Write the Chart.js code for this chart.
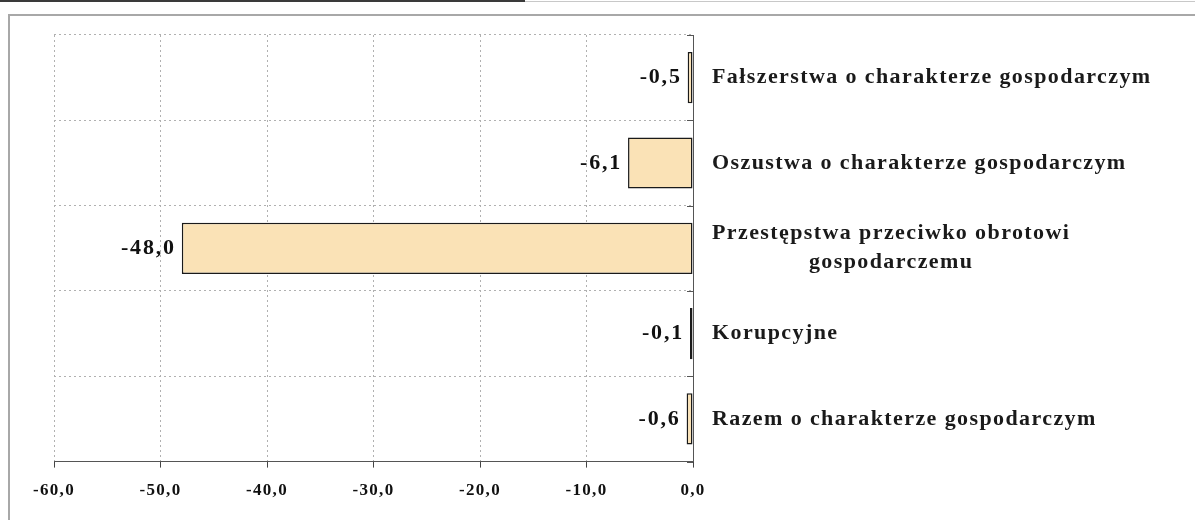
<!DOCTYPE html>
<html>
<head>
<meta charset="utf-8">
<script src="https://cdn.jsdelivr.net/npm/chart.js@4/dist/chart.umd.min.js"></script>
<style>
  html, body { margin: 0; padding: 0; background: #fff; }
  #wrap { position: relative; width: 1195px; height: 520px; }
</style>
</head>
<body>
<div id="wrap"><canvas id="c" width="1195" height="520"></canvas></div>
<script>
const categories = [
  'Fałszerstwa o charakterze gospodarczym',
  'Oszustwa o charakterze gospodarczym',
  ['Przestępstwa przeciwko obrotowi', 'gospodarczemu'],
  'Korupcyjne',
  'Razem o charakterze gospodarczym'
];
const values = [-0.5, -6.1, -48.0, -0.1, -0.6];
const xTicks = [-60, -50, -40, -30, -20, -10, 0];

const SERIF = '"Liberation Serif", "Times New Roman", serif';
const fmt = v => Number(v).toFixed(1).replace('.', ',');

const framePlugin = {
  id: 'frame',
  beforeDraw(chart) {
    const ctx = chart.ctx;
    ctx.save();
    ctx.strokeStyle = '#3a3a3a';
    ctx.lineWidth = 2;
    ctx.beginPath(); ctx.moveTo(0, 1); ctx.lineTo(525, 1); ctx.stroke();
    ctx.strokeStyle = '#c8c8c8';
    ctx.lineWidth = 1;
    ctx.beginPath(); ctx.moveTo(525, 1.5); ctx.lineTo(1195, 1.5); ctx.stroke();
    ctx.strokeStyle = '#a8a8a8';
    ctx.lineWidth = 2;
    ctx.beginPath();
    ctx.moveTo(9, 520); ctx.lineTo(9, 15); ctx.lineTo(1195, 15);
    ctx.stroke();
    ctx.restore();
    ctx.letterSpacing = '1.3px';
  },
  beforeDatasetsDraw(chart) {
    chart.ctx.letterSpacing = '0px';
  }
};

const labelPlugin = {
  id: 'labels',
  afterDraw(chart) {
    const ctx = chart.ctx;
    const area = chart.chartArea;
    const yScale = chart.scales.y;
    const meta = chart.getDatasetMeta(0);
    ctx.save();
    ctx.strokeStyle = '#555';
    ctx.lineWidth = 1;
    const n = chart.data.labels.length;
    for (let i = 0; i <= n; i++) {
      let y;
      if (i === 0) y = area.top;
      else if (i === n) y = area.bottom;
      else y = (yScale.getPixelForTick(i - 1) + yScale.getPixelForTick(i)) / 2;
      ctx.beginPath(); ctx.moveTo(area.right - 6, Math.round(y) + 0.5); ctx.lineTo(area.right, Math.round(y) + 0.5); ctx.stroke();
    }
    ctx.fillStyle = '#111';
    ctx.font = 'bold 22px ' + SERIF;
    ctx.letterSpacing = '1.8px';
    ctx.textAlign = 'right';
    ctx.textBaseline = 'middle';
    meta.data.forEach((bar, i) => {
      ctx.fillText(fmt(chart.data.datasets[0].data[i]), bar.x - 6, bar.y);
    });
    ctx.font = 'bold 22px ' + SERIF;
    ctx.letterSpacing = '1.4px';
    ctx.fillStyle = '#1a1a1a';
    const x0 = area.right + 19;
    chart.data.labels.forEach((lab, i) => {
      const y = yScale.getPixelForTick(i);
      if (Array.isArray(lab)) {
        const widths = lab.map(t => ctx.measureText(t).width);
        const maxW = Math.max(...widths);
        const lh = 29;
        const startY = y - (lab.length - 1) * lh / 2;
        ctx.textAlign = 'center';
        lab.forEach((t, k) => ctx.fillText(t, x0 + maxW / 2, startY + k * lh));
      } else {
        ctx.textAlign = 'left';
        ctx.fillText(lab, x0, y);
      }
    });
    ctx.restore();
  }
};

new Chart(document.getElementById('c'), {
  type: 'bar',
  data: {
    labels: categories,
    datasets: [{
      data: values,
      backgroundColor: '#FAE2B6',
      borderColor: '#1a1a1a',
      borderWidth: 1.5,
      borderSkipped: false,
      minBarLength: 3,
      barPercentage: 0.6,
      categoryPercentage: 1.0
    }]
  },
  options: {
    indexAxis: 'y',
    responsive: false,
    animation: false,
    devicePixelRatio: 1,
    layout: { padding: { left: 54, right: 502, top: 35, bottom: 6 } },
    plugins: { legend: { display: false }, tooltip: { enabled: false } },
    scales: {
      x: {
        type: 'linear',
        min: xTicks[0],
        max: xTicks[xTicks.length - 1],
        afterBuildTicks: s => { s.ticks = xTicks.map(v => ({ value: v })); },
        grid: {
          color: '#b0b0b0',
          lineWidth: 1,
          drawTicks: true,
          tickLength: 6,
          tickColor: '#444',
          tickBorderDash: []
        },
        border: { display: true, color: '#555', width: 1, dash: [2, 3] },
        ticks: {
          callback: v => fmt(v),
          color: '#111',
          padding: 13,
          maxRotation: 0,
          font: { family: SERIF, size: 17, weight: 'bold' }
        }
      },
      y: {
        type: 'category',
        position: 'right',
        grid: {
          offset: true,
          color: '#b0b0b0',
          lineWidth: 1,
          drawTicks: false
        },
        border: { display: true, color: '#555', width: 1, dash: [2, 3] },
        ticks: { display: false }
      }
    }
  },
  plugins: [framePlugin, labelPlugin]
});
</script>
</body>
</html>
